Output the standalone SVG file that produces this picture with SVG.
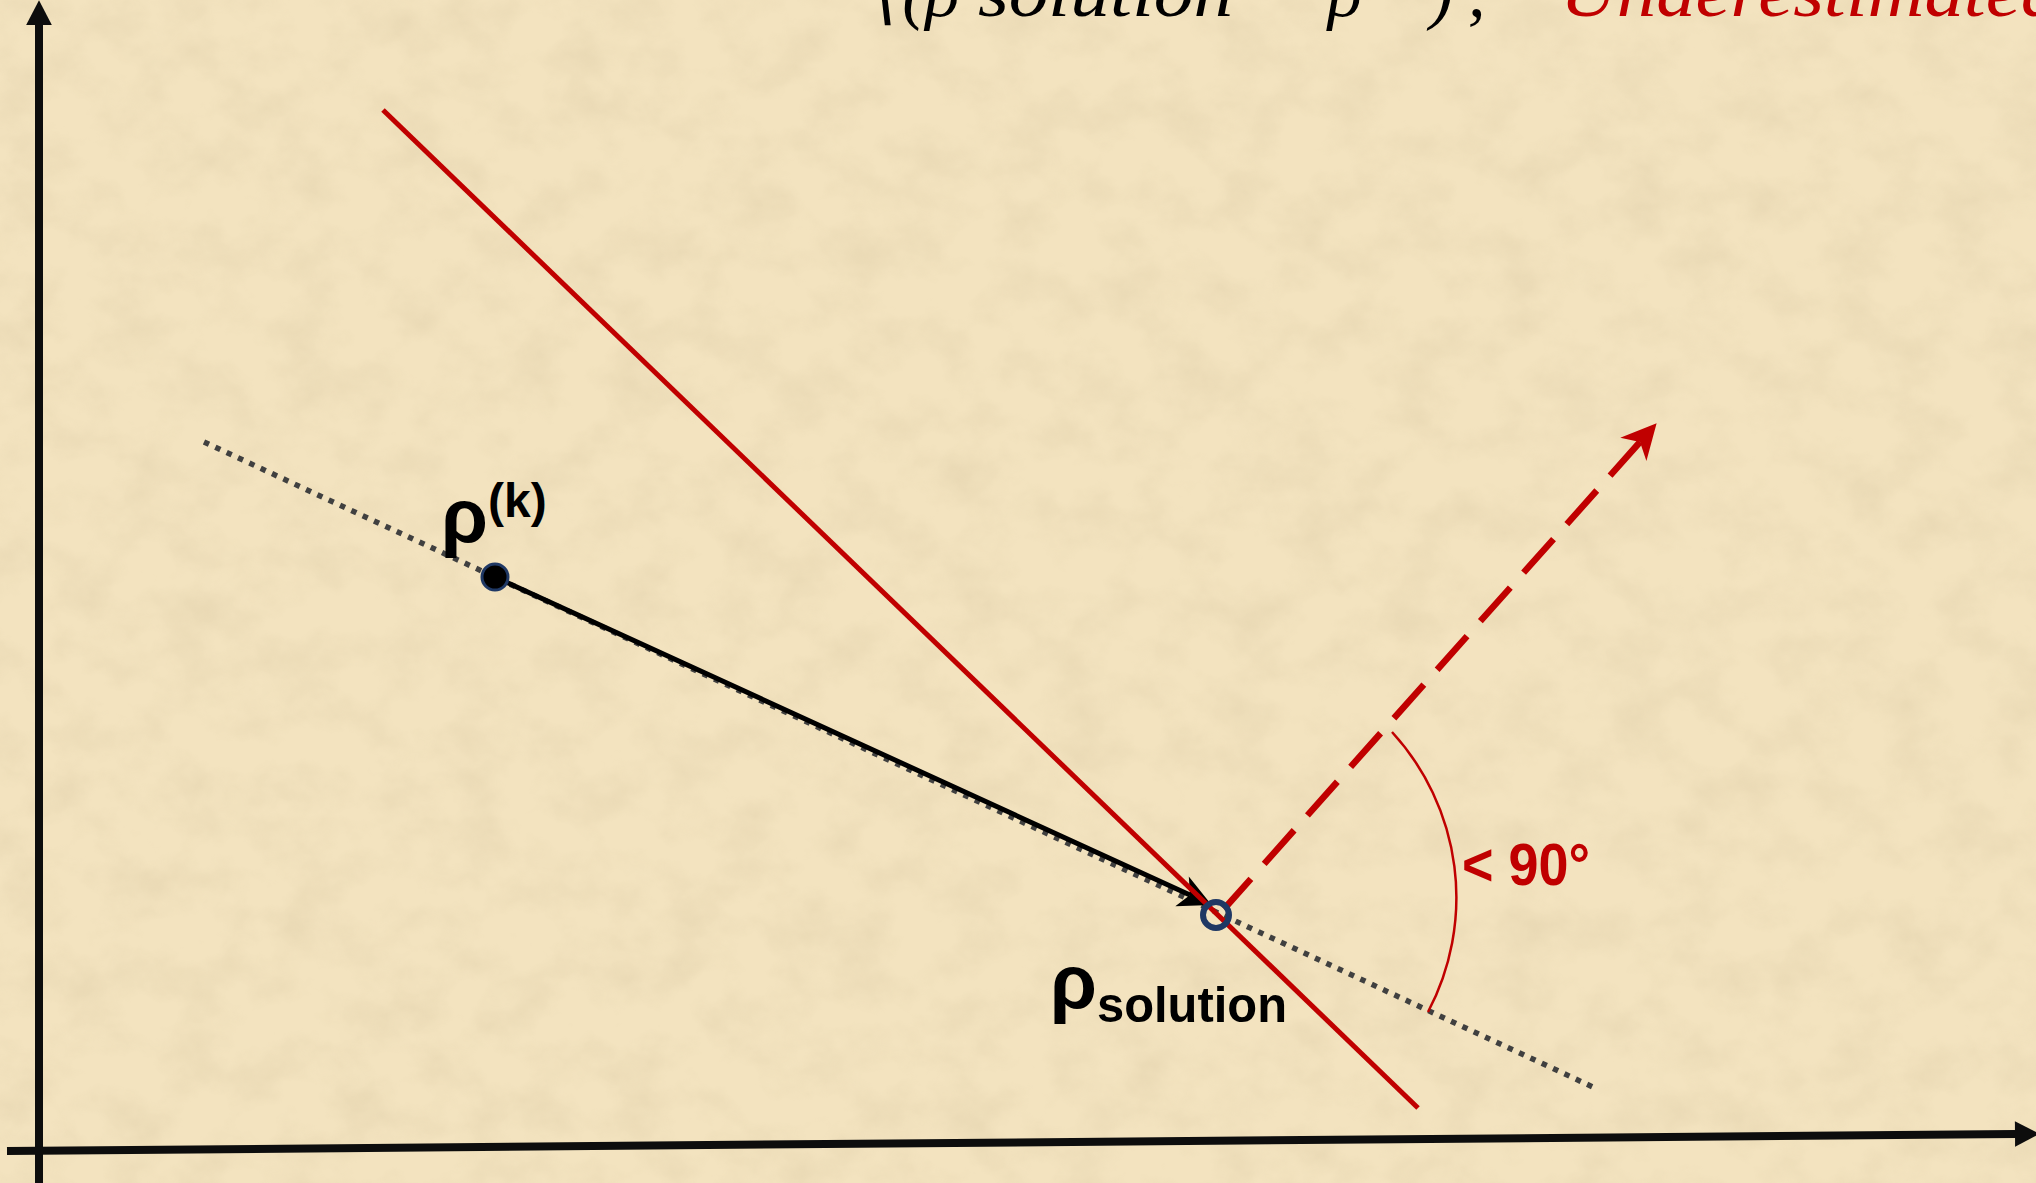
<svg xmlns="http://www.w3.org/2000/svg" width="2036" height="1183" viewBox="0 0 2036 1183">
<style>
.lbl{font-family:"Liberation Sans",Arial,sans-serif;font-weight:bold;fill:#000}
.math{font-family:"Liberation Serif","DejaVu Serif",serif;font-style:italic;font-size:70px}
.axis{stroke:#0d0d0d;stroke-width:8;fill:none}
.dotted{stroke:#404040;stroke-width:5.5;stroke-dasharray:5.5 7;fill:none}
.red{stroke:#c00000;fill:none}
</style>
<defs>
<filter id="paper" x="0" y="0" width="100%" height="100%">
<feTurbulence type="fractalNoise" baseFrequency="0.018 0.022" numOctaves="4" seed="7" result="n"/>
<feColorMatrix in="n" type="matrix" values="0 0 0 0 0.74  0 0 0 0 0.62  0 0 0 0 0.40  1.8 0 0 0 -0.72"/>
</filter>
<marker id="axhead" markerUnits="userSpaceOnUse" markerWidth="30" markerHeight="30" viewBox="-2 -14 28 28" refX="0" refY="0" orient="auto" overflow="visible">
<path d="M0,-12 L23,0 L0,12 z" fill="#0d0d0d"/>
</marker>
<marker id="blackhead" markerUnits="userSpaceOnUse" markerWidth="40" markerHeight="40" viewBox="-10 -15 32 30" refX="0" refY="0" orient="auto" overflow="visible">
<path d="M-7,-13 L19,0 L-7,13 L0,0 z" fill="#000"/>
</marker>
<marker id="redhead" markerUnits="userSpaceOnUse" markerWidth="40" markerHeight="40" viewBox="-10 -16 32 32" refX="0" refY="0" orient="auto-start-reverse" overflow="visible">
<path d="M-8,-14 L20,0 L-8,14 L0,0 z" fill="#c00000"/>
</marker>
</defs>

<rect width="2036" height="1183" fill="#f3e3bf"/>
<rect width="2036" height="1183" filter="url(#paper)" opacity="0.5"/>

<g id="title">
<text class="math" y="16"><tspan x="875">⟨(ρ</tspan><tspan x="978" textLength="255" lengthAdjust="spacingAndGlyphs">solution</tspan><tspan x="1290">−</tspan><tspan x="1328">ρ</tspan><tspan x="1430">)</tspan><tspan x="1468">,</tspan><tspan x="1560" fill="#c00000" textLength="500" lengthAdjust="spacingAndGlyphs">Underestimated</tspan></text>
</g>

<g id="connectors">
<line class="axis" x1="39" y1="1183" x2="39" y2="25" marker-end="url(#axhead)"/>
<line class="axis" x1="7" y1="1151" x2="2015" y2="1134" marker-end="url(#axhead)"/>
<line class="dotted" x1="204" y1="442" x2="1595" y2="1088"/>
<line x1="495" y1="577" x2="1190" y2="895" stroke="#000" stroke-width="5" marker-end="url(#blackhead)"/>
<line class="red" x1="383" y1="110" x2="1418" y2="1108" stroke-width="5"/>
<line class="red" x1="1640" y1="442" x2="1224" y2="909" stroke-width="6.5" stroke-dasharray="45 20" marker-start="url(#redhead)"/>
<path class="red" d="M1392,732 A245,245 0 0 1 1428,1012" stroke="#ff0000" stroke-width="2.5"/>
</g>

<g id="rho-k">
<circle cx="495" cy="577" r="13" fill="#000" stroke="#1f3864" stroke-width="3"/>
<text class="lbl" y="542"><tspan x="441" font-size="76">ρ</tspan><tspan x="488" y="517" font-size="48">(k)</tspan></text>
</g>

<g id="rho-solution">
<circle cx="1216" cy="915" r="13" fill="none" stroke="#1f3864" stroke-width="6"/>
<text class="lbl" y="1008"><tspan x="1050" font-size="76">ρ</tspan><tspan x="1097" y="1022" font-size="50" textLength="190" lengthAdjust="spacingAndGlyphs">solution</tspan></text>
</g>

<g id="angle-label">
<text class="lbl" x="1462" y="885" font-size="60" style="fill:#c00000" textLength="128" lengthAdjust="spacingAndGlyphs">&lt; 90°</text>
</g>
</svg>
